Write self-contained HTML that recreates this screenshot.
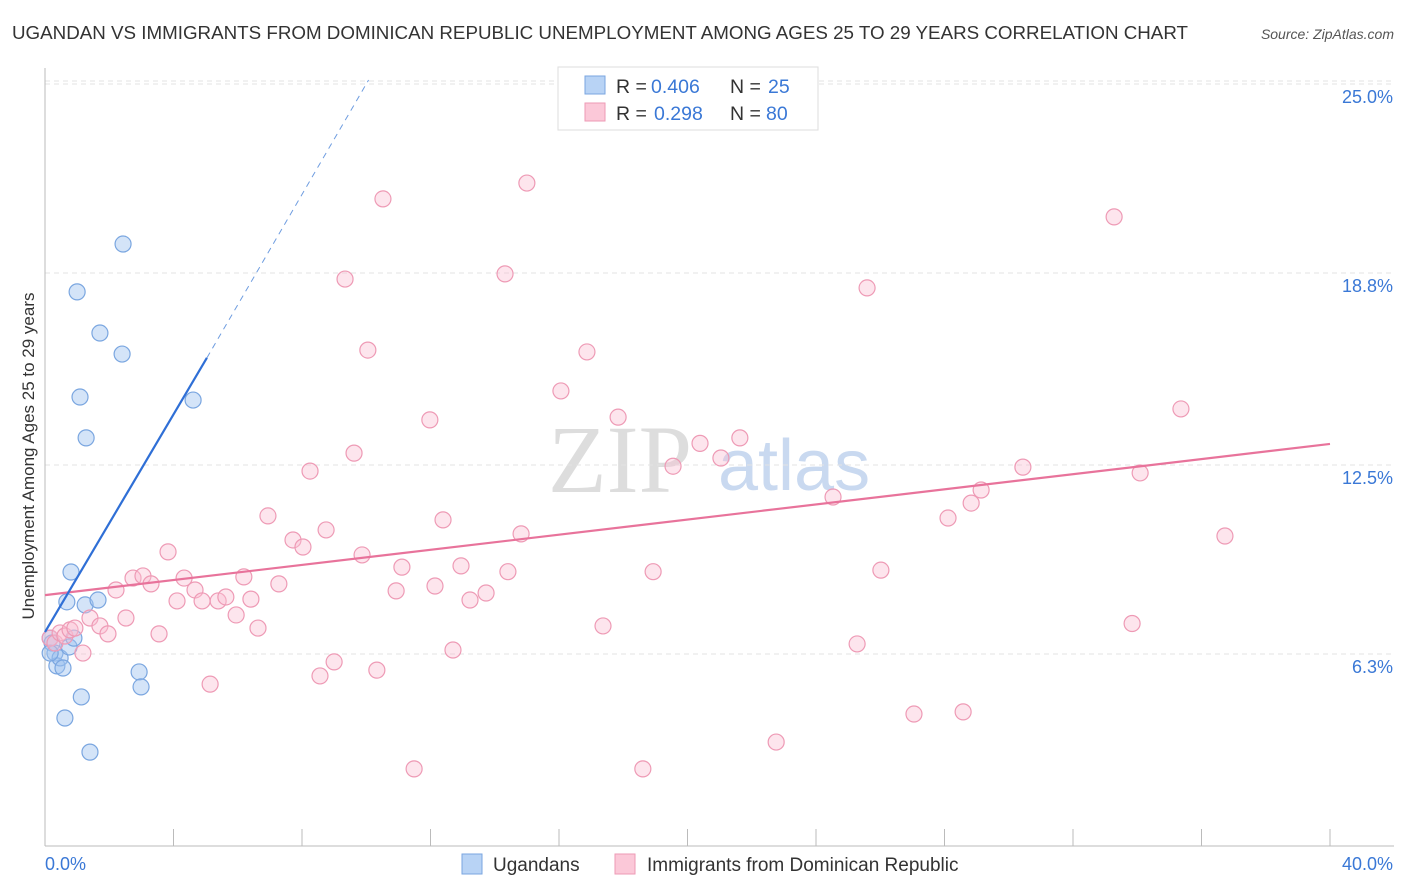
<!DOCTYPE html>
<html><head><meta charset="utf-8"><style>
body{margin:0;background:#fff;font-family:"Liberation Sans",sans-serif;}
svg{display:block}
</style></head><body>
<svg id="c" width="1406" height="892" xmlns="http://www.w3.org/2000/svg">
<text x="12" y="39" font-size="18.8" fill="#333" textLength="1176" lengthAdjust="spacingAndGlyphs">UGANDAN VS IMMIGRANTS FROM DOMINICAN REPUBLIC UNEMPLOYMENT AMONG AGES 25 TO 29 YEARS CORRELATION CHART</text>
<text x="1394" y="39" font-size="14" fill="#555" font-style="italic" text-anchor="end">Source: ZipAtlas.com</text>
<text x="692" y="492" font-size="96" fill="#ddd" font-family="Liberation Serif,serif" text-anchor="end">ZIP</text>
<text x="718" y="490" font-size="72" fill="#c9d9f0">atlas</text>
<text transform="translate(34,456) rotate(-90)" font-size="17" fill="#333" text-anchor="middle">Unemployment Among Ages 25 to 29 years</text>
<g id="grid"></g><g id="marks"></g>
<g>
<rect x="558" y="67" width="260" height="63" fill="#fff" stroke="#ddd"/>
<rect x="585" y="76" width="20" height="18" fill="#b8d3f5" stroke="#7aa6e0"/>
<rect x="585" y="103" width="20" height="18" fill="#fbc8d8" stroke="#ee9ab5"/>
<g font-size="19.5" fill="#333">
<text x="616" y="93">R =</text><text x="651" y="93" fill="#3a78d6">0.406</text><text x="730" y="93">N =</text><text x="768" y="93" fill="#3a78d6">25</text>
<text x="616" y="120">R =</text><text x="654" y="120" fill="#3a78d6">0.298</text><text x="730" y="120">N =</text><text x="766" y="120" fill="#3a78d6">80</text>
</g>
</g>
<g>
<rect x="462" y="854" width="20" height="20" fill="#b8d3f5" stroke="#7aa6e0"/>
<text x="493" y="871" font-size="19" fill="#333">Ugandans</text>
<rect x="615" y="854" width="20" height="20" fill="#fbc8d8" stroke="#ee9ab5"/>
<text x="647" y="871" font-size="19" fill="#333">Immigrants from Dominican Republic</text>
</g>
</svg>
<script>
const yTicks=[25,18.8,12.5,6.3];
const blueX=[0.16,0.22,0.31,0.37,0.47,0.56,0.62,0.68,0.75,0.81,0.9,1.0,1.09,1.13,1.25,1.28,1.4,1.65,1.71,2.4,2.43,2.93,2.99,4.61,0.16];
const blueY=[6.82,6.66,6.33,5.91,6.17,5.84,4.2,8.01,6.53,8.99,6.82,18.18,14.73,4.89,7.91,13.39,3.08,8.07,16.83,16.14,19.75,5.71,5.22,14.63,6.33];
const pinkX=[0.16,0.31,0.47,0.62,0.78,0.93,1.18,1.4,1.71,1.96,2.21,2.52,2.74,3.05,3.3,3.55,3.83,4.11,4.33,4.67,4.89,5.14,5.39,5.63,5.95,6.19,6.41,6.63,6.94,7.28,7.72,8.03,8.25,8.56,8.75,9.0,9.34,9.62,9.87,10.05,10.33,10.52,10.93,11.11,11.49,11.98,12.14,12.39,12.7,12.95,13.23,13.73,14.32,14.41,14.82,15.0,16.06,16.87,17.37,17.84,18.61,18.93,19.55,20.39,21.04,21.63,22.76,24.53,25.28,25.59,26.02,27.05,28.11,28.58,28.83,29.14,30.44,33.28,33.84,34.09,35.36,36.73];
const pinkY=[6.82,6.66,6.99,6.89,7.09,7.15,6.33,7.48,7.22,6.96,8.4,7.48,8.79,8.86,8.6,6.96,9.65,8.04,8.79,8.4,8.04,5.31,8.04,8.17,7.58,8.83,8.1,7.15,10.83,8.6,10.04,9.81,12.3,5.58,10.37,6.04,18.6,12.89,9.55,16.27,5.77,21.23,8.37,9.15,2.53,13.98,8.53,10.7,6.43,9.19,8.07,8.3,18.77,9.0,10.24,21.75,14.93,16.21,7.22,14.07,2.53,9.0,12.46,13.21,12.73,13.39,3.41,11.45,6.63,18.31,9.05,4.33,10.76,4.4,11.25,11.68,12.43,20.64,7.3,12.24,14.34,10.17];
const pinkLine=[8.23,13.19];
const blueLine=[7.02,1.785];
const X=v=>45+v*32.125, Y=v=>846-v*30.48;
const NS="http://www.w3.org/2000/svg";
function mk(t,a,p){const e=document.createElementNS(NS,t);for(const k in a)e.setAttribute(k,a[k]);p.appendChild(e);return e;}
const g=document.getElementById('grid'), m=document.getElementById('marks');
yTicks.forEach(v=>{
const l=mk('line',{x1:45,x2:1394,y1:Y(v),y2:Y(v),stroke:'#e3e3e3','stroke-dasharray':'5,4'},g);


const t=mk('text',{x:1393,y:Y(v)+19,'font-size':18,fill:'#3a78d6','text-anchor':'end'},g);t.textContent=v.toFixed(1)+'%';


});
mk('line',{x1:45,x2:1394,y1:Y(25)-3,y2:Y(25)-3,stroke:'#e3e3e3','stroke-dasharray':'5,4'},g);
mk('line',{x1:45,x2:45,y1:68,y2:846,stroke:'#bbb'},g);
mk('line',{x1:45,x2:1394,y1:846,y2:846,stroke:'#bbb'},g);
for(let i=0;i<=10;i++){const l=mk('line',{x1:X(i*4),x2:X(i*4),y1:829,y2:846,stroke:'#bbb'},g);

}
let t=mk('text',{x:45,y:870,'font-size':18,fill:'#3a78d6'},g);t.textContent='0.0%';
t=mk('text',{x:1393,y:870,'font-size':18,fill:'#3a78d6','text-anchor':'end'},g);t.textContent='40.0%';
blueX.forEach((x,i)=>{const c=mk('circle',{cx:X(x),cy:Y(blueY[i]),r:8,fill:'rgba(160,196,240,0.45)',stroke:'#7aa6e0','stroke-width':1.2},m);

});
pinkX.forEach((x,i)=>{const c=mk('circle',{cx:X(x),cy:Y(pinkY[i]),r:8,fill:'rgba(250,190,210,0.4)',stroke:'#ee9ab5','stroke-width':1.2},m);

});
const pl=mk('line',{x1:X(0),y1:Y(pinkLine[0]),x2:X(40),y2:Y(pinkLine[1]),stroke:'#e8739b','stroke-width':2.2},m);


const xe=5.04, xd=(25-blueLine[0])/blueLine[1];
const bl=mk('line',{x1:X(0),y1:Y(blueLine[0]),x2:X(xe),y2:Y(blueLine[0]+blueLine[1]*xe),stroke:'#2f6fd6','stroke-width':2.2},m);


const bd=mk('line',{x1:X(xe),y1:Y(blueLine[0]+blueLine[1]*xe),x2:X(xd),y2:Y(25)-4,stroke:'#6f9de0','stroke-width':1,'stroke-dasharray':'6,5'},m);


</script>
</body></html>
